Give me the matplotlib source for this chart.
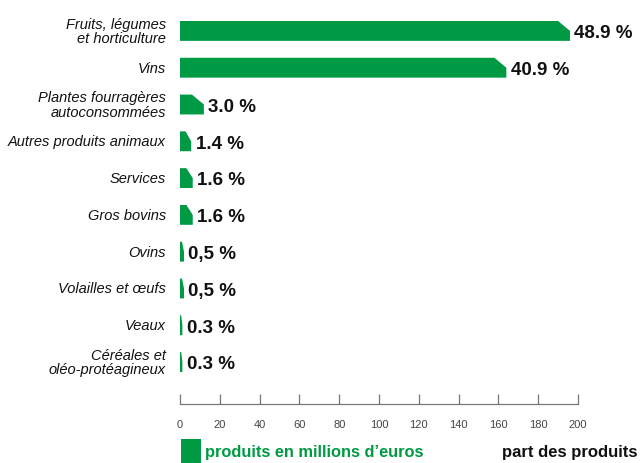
import matplotlib
matplotlib.use("Agg")
import matplotlib.pyplot as plt
from matplotlib import font_manager
from matplotlib.patches import Polygon

# Data
categories = [
    "Fruits, légumes\net horticulture",
    "Vins",
    "Plantes fourragères\nautoconsommées",
    "Autres produits animaux",
    "Services",
    "Gros bovins",
    "Ovins",
    "Volailles et œufs",
    "Veaux",
    "Céréales et\noléo-protéagineux",
]
values = [196, 164, 12, 5.6, 6.4, 6.4, 2, 2, 1.2, 1.2]
shares = ["48.9 %", "40.9 %", "3.0 %", "1.4 %", "1.6 %", "1.6 %",
          "0,5 %", "0,5 %", "0.3 %", "0.3 %"]
xticks = [0, 20, 40, 60, 80, 100, 120, 140, 160, 180, 200]

GREEN = "#009a44"

available = {f.name for f in font_manager.fontManager.ttflist}
narrow = "Liberation Sans Narrow" if "Liberation Sans Narrow" in available else "Liberation Sans"

W, H = 643, 464
fig = plt.figure(figsize=(W / 100, H / 100), dpi=100)
ax = fig.add_axes([180 / W, 1 - 405 / H, 398 / W, 390 / H])
ax.set_xlim(0, 200)
ax.set_ylim(10.14, -0.46)

bar_h = 0.54
for i, v in enumerate(values):
    top, bottom = i - bar_h / 2, i + bar_h / 2
    cw = min(6.0, 0.5 * v)
    ch = bar_h * 0.5
    poly = Polygon([(0, bottom), (0, top), (v - cw, top), (v, top + ch), (v, bottom)],
                   closed=True, facecolor=GREEN, edgecolor="none")
    ax.add_patch(poly)
    ax.text(v + 2.2, i + 0.05, shares[i], va="center", ha="left",
            fontsize=13.5, fontweight="bold", family=narrow, color="#111111")
    ax.text(-7, i, categories[i], va="center", ha="right", fontsize=10.5,
            style="italic", family=narrow, color="#111111", linespacing=1.05,
            clip_on=False)

for s in ["top", "right", "left"]:
    ax.spines[s].set_visible(False)
ax.spines["bottom"].set_color("#777777")
ax.spines["bottom"].set_linewidth(0.9)
ax.set_yticks([])
ax.set_xticks(xticks)
ax.tick_params(axis="x", direction="in", length=7, width=0.9, color="#777777",
               pad=11, labelsize=8, labelcolor="#444444")
for lab in ax.get_xticklabels():
    lab.set_family(narrow)

# legend
fig.patches.append(plt.Rectangle((181 / W, 1 - 464 / H), 20 / W, 24 / H,
                                 transform=fig.transFigure, facecolor=GREEN,
                                 edgecolor="none"))
fig.text(205 / W, 1 - 453 / H, "produits en millions d\u2019euros", color=GREEN,
         fontsize=11.8, fontweight="bold", family=narrow, va="center", ha="left")
fig.text(637 / W, 1 - 453 / H, "part des produits", color="#111111",
         fontsize=12, fontweight="bold", family=narrow, va="center", ha="right")

fig.savefig("out.png", dpi=100)
